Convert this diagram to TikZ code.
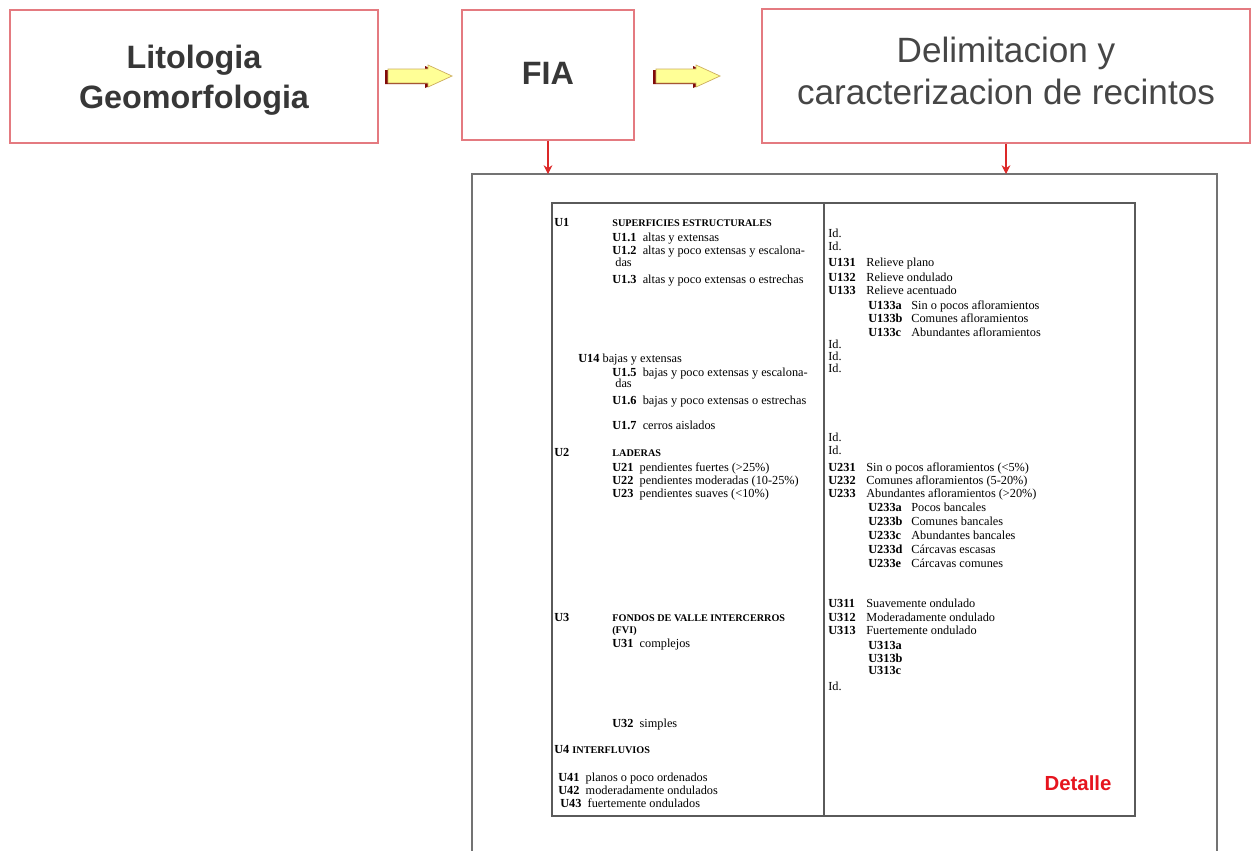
\documentclass[tikz,border=0pt]{standalone}
\usepackage{fontspec}
\setmainfont{Liberation Serif}
\newfontfamily\arialf{Liberation Sans}
\usetikzlibrary{arrows.meta,calc}
\definecolor{boxred}{RGB}{228,122,128}
\definecolor{arrred}{RGB}{220,40,40}
\definecolor{framegray}{RGB}{115,115,115}
\definecolor{tablegray}{RGB}{90,90,90}
\definecolor{shadred}{RGB}{128,10,10}
\definecolor{arrowyellow}{RGB}{255,255,150}
\definecolor{arrowedge}{RGB}{205,175,95}
\definecolor{detred}{RGB}{230,20,30}
\definecolor{titlegray}{RGB}{55,55,55}
\definecolor{lightgray2}{RGB}{70,70,70}
\newcommand\ucode[1]{\textbf{#1}}
\tikzset{
  topbox/.style={draw=boxred, line width=1.1pt, fill=white, inner sep=0pt},
  boxtext/.style={align=center, inner sep=0pt, text=titlegray},
  downarr/.style={draw=arrred, line width=0.6pt, -{Stealth[length=5pt,width=5pt]}},
  framestyle/.style={draw=framegray, line width=1.1pt},
  tablestyle/.style={draw=tablegray, line width=0.9pt},
  tl/.style={anchor=west, inner sep=0pt, text height=4.6pt, text depth=0pt, font=\fontsize{7}{8}\selectfont},
  ttl/.style={tl, font=\fontsize{5.8}{6}\selectfont\bfseries},
  fatarrow/.pic={
    \fill[shadred] (-35,-6) -- (5,-6) -- (5,-10) -- (29,1) -- (5,12) -- (5,8) -- (-35,8) -- cycle;
    \filldraw[fill=arrowyellow, draw=arrowedge, line width=0.4pt] (-32,-7) -- (8,-7) -- (8,-11) -- (32,0) -- (8,11) -- (8,7) -- (-32,7) -- cycle;
  }
}
\begin{document}
\begin{tikzpicture}[x=0.02cm,y=-0.02cm]
\useasboundingbox (0,0) rectangle (1252,850);
\fill[white] (0,0) rectangle (1252,850);

% top boxes
\node[topbox, minimum width=7.36cm, minimum height=2.66cm] (b1) at (194,76.5) {};
\node[boxtext, font=\arialf\bfseries\fontsize{18.4}{22.7}\selectfont] (b1t) at (194,80) {Litologia\\Geomorfologia};
\node[topbox, minimum width=3.44cm, minimum height=2.6cm] (b2) at (548,75) {};
\node[boxtext, font=\arialf\bfseries\fontsize{18.4}{22.7}\selectfont] (b2t) at (548,73) {FIA};
\node[topbox, minimum width=9.76cm, minimum height=2.68cm] (b3) at (1006,76) {};
\node[boxtext, text=lightgray2, font=\arialf\fontsize{20}{24}\selectfont] (b3t) at (1006,71) {Delimitacion y\\caracterizacion de recintos};

% block arrows
\pic (fa1) at (420,76) {fatarrow};
\pic (fa2) at (688,76) {fatarrow};

% outer frame
\coordinate (ftop) at (472,174);
\draw[framestyle] (472,851) |- (1217,174) -- (1217,851);
\draw[downarr] (b2.south) -- (b2.south |- ftop);
\draw[downarr] (b3.south) -- (b3.south |- ftop);

% inner table
\draw[tablestyle] (552,203) rectangle (1135,816);
\draw[tablestyle] (824,203) -- (824,816);

% left column
\node[tl] (u1) at (554,222) {\ucode{U1}};
\node[ttl] (u1t) at (612,222) {SUPERFICIES ESTRUCTURALES};
\node[tl] (u11) at (612,237) {\ucode{U1.1}\enspace altas y extensas};
\node[tl] (u12) at (612,250) {\ucode{U1.2}\enspace altas y poco extensas y escalona-};
\node[tl] (u12b) at (615,262) {das};
\node[tl] (u13) at (612,279) {\ucode{U1.3}\enspace altas y poco extensas o estrechas};
\node[tl] (u14) at (578,358) {\ucode{U14} bajas y extensas};
\node[tl] (u15) at (612,372) {\ucode{U1.5}\enspace bajas y poco extensas y escalona-};
\node[tl] (u15b) at (615,383) {das};
\node[tl] (u16) at (612,400) {\ucode{U1.6}\enspace bajas y poco extensas o estrechas};
\node[tl] (u17) at (612,425) {\ucode{U1.7}\enspace cerros aislados};
\node[tl] (u2) at (554,452) {\ucode{U2}};
\node[ttl] (u2t) at (612,452) {LADERAS};
\node[tl] (u21) at (612,467) {\ucode{U21}\enspace pendientes fuertes (>25\%)};
\node[tl] (u22) at (612,480) {\ucode{U22}\enspace pendientes moderadas (10-25\%)};
\node[tl] (u23) at (612,493) {\ucode{U23}\enspace pendientes suaves (<10\%)};
\node[tl] (u3) at (554,617) {\ucode{U3}};
\node[ttl] (u3t) at (612,617) {FONDOS DE VALLE INTERCERROS};
\node[ttl] (u3t2) at (612,629) {(FVI)};
\node[tl] (u31) at (612,643) {\ucode{U31}\enspace complejos};
\node[tl] (u32) at (612,723) {\ucode{U32}\enspace simples};
\node[tl] (u4) at (554,749) {\ucode{U4} {\fontsize{5.8}{6}\selectfont\bfseries INTERFLUVIOS}};
\node[tl] (u41) at (558,777) {\ucode{U41}\enspace planos o poco ordenados};
\node[tl] (u42) at (558,790) {\ucode{U42}\enspace moderadamente ondulados};
\node[tl] (u43) at (560,803) {\ucode{U43}\enspace fuertemente ondulados};

% right column
\node[tl] (id1) at (828,233) {Id.};
\node[tl] (id2) at (828,246) {Id.};
\node[tl] (r131) at (828,262) {\makebox[0.76cm][l]{\ucode{U131}}Relieve plano};
\node[tl] (r132) at (828,277) {\makebox[0.76cm][l]{\ucode{U132}}Relieve ondulado};
\node[tl] (r133) at (828,290) {\makebox[0.76cm][l]{\ucode{U133}}Relieve acentuado};
\node[tl] (r133a) at (868,305) {\makebox[0.86cm][l]{\ucode{U133a}}Sin o pocos afloramientos};
\node[tl] (r133b) at (868,318) {\makebox[0.86cm][l]{\ucode{U133b}}Comunes afloramientos};
\node[tl] (r133c) at (868,332) {\makebox[0.86cm][l]{\ucode{U133c}}Abundantes afloramientos};
\node[tl] (id3) at (828,344) {Id.};
\node[tl] (id4) at (828,356) {Id.};
\node[tl] (id5) at (828,368) {Id.};
\node[tl] (id6) at (828,437) {Id.};
\node[tl] (id7) at (828,450) {Id.};
\node[tl] (r231) at (828,467) {\makebox[0.76cm][l]{\ucode{U231}}Sin o pocos afloramientos (<5\%)};
\node[tl] (r232) at (828,480) {\makebox[0.76cm][l]{\ucode{U232}}Comunes afloramientos (5-20\%)};
\node[tl] (r233) at (828,493) {\makebox[0.76cm][l]{\ucode{U233}}Abundantes afloramientos (>20\%)};
\node[tl] (r233a) at (868,507) {\makebox[0.86cm][l]{\ucode{U233a}}Pocos bancales};
\node[tl] (r233b) at (868,521) {\makebox[0.86cm][l]{\ucode{U233b}}Comunes bancales};
\node[tl] (r233c) at (868,535) {\makebox[0.86cm][l]{\ucode{U233c}}Abundantes bancales};
\node[tl] (r233d) at (868,549) {\makebox[0.86cm][l]{\ucode{U233d}}Cárcavas escasas};
\node[tl] (r233e) at (868,563) {\makebox[0.86cm][l]{\ucode{U233e}}Cárcavas comunes};
\node[tl] (r311) at (828,603) {\makebox[0.76cm][l]{\ucode{U311}}Suavemente ondulado};
\node[tl] (r312) at (828,617) {\makebox[0.76cm][l]{\ucode{U312}}Moderadamente ondulado};
\node[tl] (r313) at (828,630) {\makebox[0.76cm][l]{\ucode{U313}}Fuertemente ondulado};
\node[tl] (r313a) at (868,645) {\ucode{U313a}};
\node[tl] (r313b) at (868,658) {\ucode{U313b}};
\node[tl] (r313c) at (868,670) {\ucode{U313c}};
\node[tl] (id8) at (828,686) {Id.};

\node[inner sep=0pt, font=\arialf\bfseries\fontsize{11.6}{13}\selectfont, text=detred] (det) at (1078,783) {Detalle};
\end{tikzpicture}
\end{document}
